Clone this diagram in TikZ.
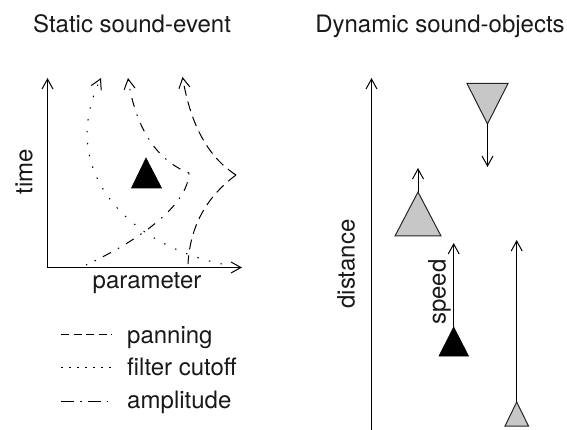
\documentclass[tikz,border=0pt]{standalone}
\usepackage{fontspec}
\setmainfont{TeX Gyre Heros}
\usetikzlibrary{arrows.meta}
\tikzset{
  x=1pt,y=-1pt,
  lbl/.style={inner sep=0pt,font=\fontsize{24}{26}\selectfont,text=black!90},
  tipb/.style={-{Straight Barb[length=10pt,width=11pt,line width=1pt]}},
  ax/.style={line width=1pt,tipb},
  pan/.style={line width=1pt,dash pattern=on 8pt off 4.5pt},
  filt/.style={line width=1pt,dash pattern=on 1.5pt off 6.5pt},
  amp/.style={line width=1pt,dash pattern=on 13pt off 6pt on 1.5pt off 6pt},
  cpan/.style={line width=1pt,tipb,dash pattern=on 10pt off 6pt},
  cfilt/.style={line width=1pt,tipb,dash pattern=on 1.5pt off 10.5pt},
  camp/.style={line width=1pt,dash pattern=on 1.5pt off 8pt on 9pt off 8pt},
  tri/.style={draw=black!85,line width=1pt},
  gtri/.style={tri,fill=black!22},
  btri/.style={fill=black,draw=black,line width=.6pt},
}
\begin{document}
\begin{tikzpicture}
\useasboundingbox (0,0) rectangle (567,430);
% titles
\node[lbl,anchor=base] (t1) at (132,33) {Static sound-event};
\node[lbl,anchor=base] (t2) at (440,33) {Dynamic sound-objects};
% left axes
\coordinate (o) at (47.5,267.5);
\coordinate (yend) at (47.5,78);
\coordinate (xend) at (242,267.5);
\draw[ax] (o) -- (yend);
\draw[ax] (o) -- (xend);
\node[lbl,rotate=90] (time) at (24,172) {time};
\node[lbl,anchor=base] (param) at (147,288) {parameter};
% curves
\coordinate (fs) at (222,264);  \coordinate (fe) at (101,78);
\coordinate (ac) at (189,173);  \coordinate (ae) at (128,78);  \coordinate (as) at (86,265);
\coordinate (pc) at (236,175);  \coordinate (pe) at (182.5,77); \coordinate (ps) at (188,264);
\draw[cfilt] (fs) .. controls (130,245) and (56,172) .. (fe);
\draw[camp,tipb] (ac) .. controls (155,160) and (135,125) .. (ae);
\draw[camp] (ac) .. controls (188,205) and (140,240) .. (as);
\draw[cpan] (pc) .. controls (205,155) and (190,120) .. (pe);
\draw[cpan,-] (pc) .. controls (205,198) and (190,228) .. (ps);
\draw[btri] (146,158) -- (131.5,188) -- (161.5,188) -- cycle;
% legend
\coordinate (l1a) at (61,334); \coordinate (l1b) at (112,334);
\coordinate (l2a) at (61,367); \coordinate (l2b) at (112,367);
\coordinate (l3a) at (61,401); \coordinate (l3b) at (112,401);
\draw[pan] (l1a) -- (l1b);
\draw[filt] (l2a) -- (l2b);
\draw[amp] (l3a) -- (l3b);
\node[lbl,anchor=base west] (lp) at (127,343) {panning};
\node[lbl,anchor=base west] (lf) at (127,375.5) {filter cutoff};
\node[lbl,anchor=base west] (la) at (127,408.5) {amplitude};
% right
\coordinate (d0) at (371.5,430); \coordinate (d1) at (371.5,78);
\draw[ax] (d0) -- (d1);
\node[lbl,rotate=90] (dist) at (346,264) {distance};
% inverted grey
\draw[gtri] (467,83.5) -- (508,83.5) -- (487.5,124) -- cycle;
\coordinate (a1) at (487.5,124); \coordinate (a1e) at (487.5,167);
\draw[ax] (a1) -- (a1e);
% grey up
\draw[gtri] (418,192) -- (395,236) -- (441,236) -- cycle;
\coordinate (a2) at (418,192); \coordinate (a2e) at (418,168);
\draw[ax] (a2) -- (a2e);
% black
\draw[btri] (453.7,327) -- (439,356) -- (468.5,356) -- cycle;
\coordinate (a3) at (453.7,327); \coordinate (a3e) at (453.7,243);
\draw[ax] (a3) -- (a3e);
\node[lbl,rotate=90] (speed) at (439.5,292) {speed};
% small
\draw[gtri] (516.7,402) -- (505,426) -- (528.5,426) -- cycle;
\coordinate (a4) at (516.7,402); \coordinate (a4e) at (516.7,240);
\draw[ax] (a4) -- (a4e);
\end{tikzpicture}
\end{document}
